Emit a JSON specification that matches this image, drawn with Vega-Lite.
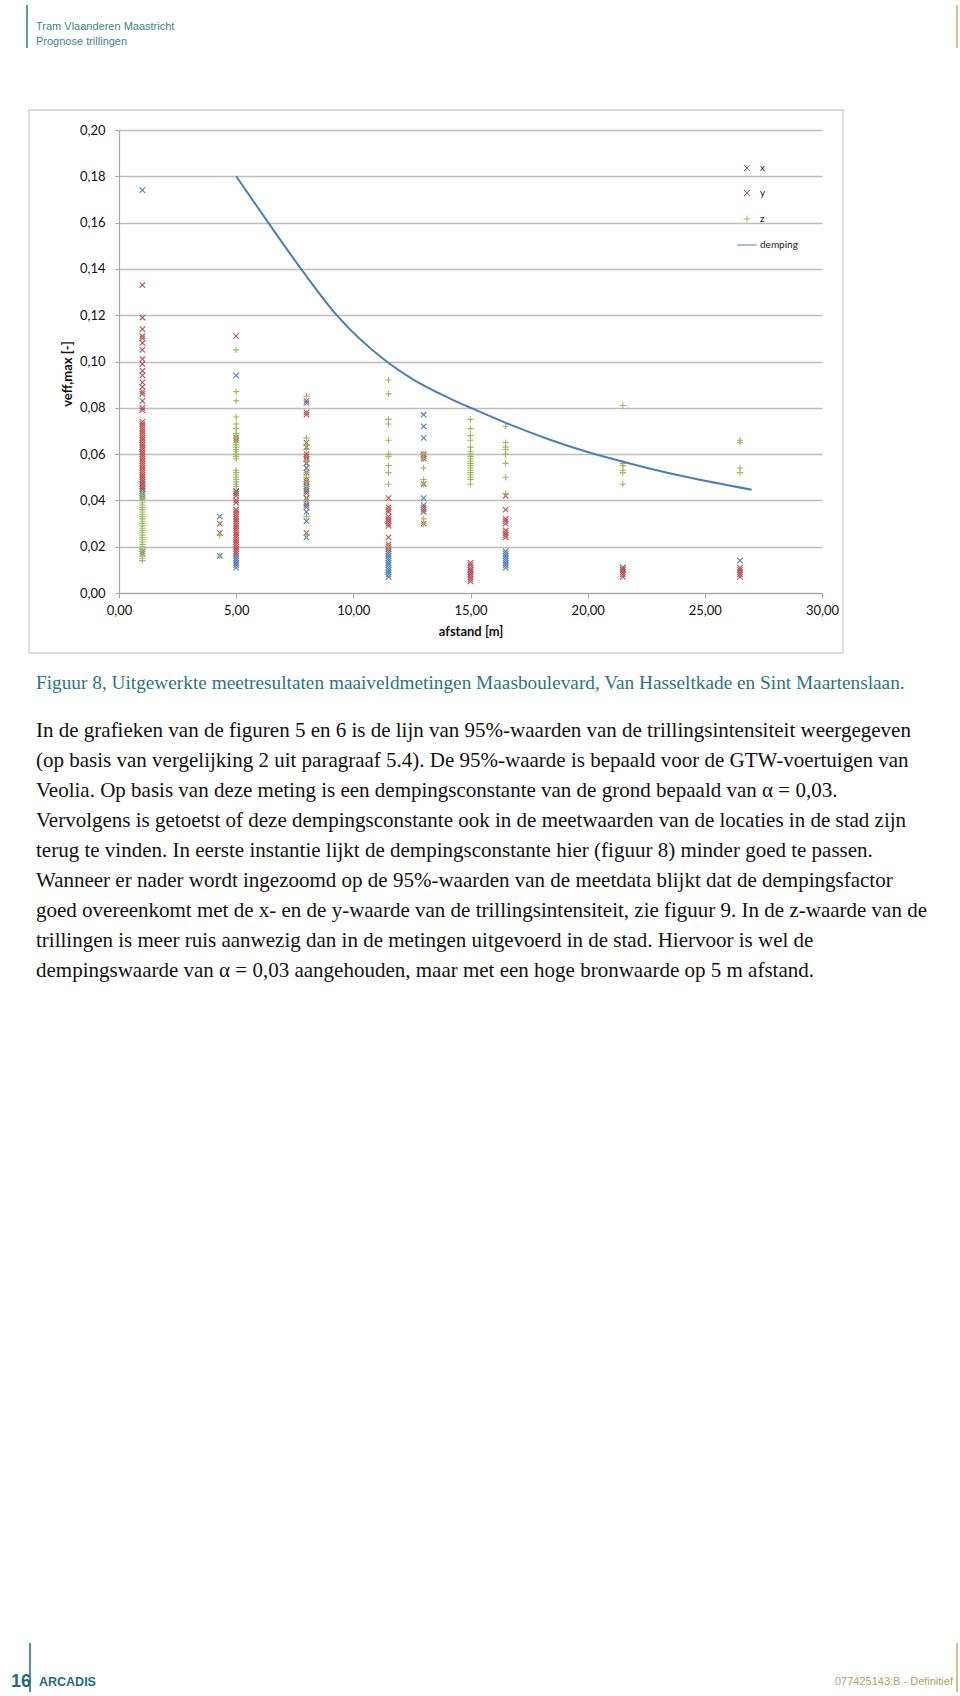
{
  "$schema": "https://vega.github.io/schema/vega-lite/v6.json",
  "width": 703,
  "height": 463,
  "autosize": {"type": "none"},
  "padding": {"left": 119, "top": 130, "right": 138, "bottom": 1103},
  "background": "white",
  "config": {"view": {"stroke": null}, "font": "Lato"},
  "datasets": {
    "metingen": [
      {"afstand": 1, "v": 0.174, "serie": "x"}, {"afstand": 1, "v": 0.049, "serie": "x"}, {"afstand": 1, "v": 0.047, "serie": "x"}, {"afstand": 1, "v": 0.046, "serie": "x"}, {"afstand": 1, "v": 0.045, "serie": "x"}, {"afstand": 1, "v": 0.044, "serie": "x"}, {"afstand": 1, "v": 0.043, "serie": "x"}, {"afstand": 1, "v": 0.042, "serie": "x"}, {"afstand": 1, "v": 0.041, "serie": "x"}, {"afstand": 1, "v": 0.018, "serie": "x"}, {"afstand": 1, "v": 0.017, "serie": "x"},
      {"afstand": 4.3, "v": 0.033, "serie": "x"}, {"afstand": 4.3, "v": 0.016, "serie": "x"},
      {"afstand": 5, "v": 0.094, "serie": "x"}, {"afstand": 5, "v": 0.044, "serie": "x"}, {"afstand": 5, "v": 0.043, "serie": "x"}, {"afstand": 5, "v": 0.016, "serie": "x"}, {"afstand": 5, "v": 0.015, "serie": "x"}, {"afstand": 5, "v": 0.014, "serie": "x"}, {"afstand": 5, "v": 0.013, "serie": "x"}, {"afstand": 5, "v": 0.012, "serie": "x"}, {"afstand": 5, "v": 0.011, "serie": "x"},
      {"afstand": 8, "v": 0.082, "serie": "x"}, {"afstand": 8, "v": 0.058, "serie": "x"}, {"afstand": 8, "v": 0.056, "serie": "x"}, {"afstand": 8, "v": 0.054, "serie": "x"}, {"afstand": 8, "v": 0.047, "serie": "x"}, {"afstand": 8, "v": 0.046, "serie": "x"}, {"afstand": 8, "v": 0.045, "serie": "x"}, {"afstand": 8, "v": 0.043, "serie": "x"}, {"afstand": 8, "v": 0.041, "serie": "x"}, {"afstand": 8, "v": 0.039, "serie": "x"}, {"afstand": 8, "v": 0.037, "serie": "x"}, {"afstand": 8, "v": 0.035, "serie": "x"}, {"afstand": 8, "v": 0.031, "serie": "x"}, {"afstand": 8, "v": 0.024, "serie": "x"},
      {"afstand": 11.5, "v": 0.018, "serie": "x"}, {"afstand": 11.5, "v": 0.017, "serie": "x"}, {"afstand": 11.5, "v": 0.016, "serie": "x"}, {"afstand": 11.5, "v": 0.015, "serie": "x"}, {"afstand": 11.5, "v": 0.014, "serie": "x"}, {"afstand": 11.5, "v": 0.013, "serie": "x"}, {"afstand": 11.5, "v": 0.012, "serie": "x"}, {"afstand": 11.5, "v": 0.011, "serie": "x"}, {"afstand": 11.5, "v": 0.01, "serie": "x"}, {"afstand": 11.5, "v": 0.009, "serie": "x"}, {"afstand": 11.5, "v": 0.008, "serie": "x"}, {"afstand": 11.5, "v": 0.007, "serie": "x"},
      {"afstand": 13, "v": 0.077, "serie": "x"}, {"afstand": 13, "v": 0.072, "serie": "x"}, {"afstand": 13, "v": 0.067, "serie": "x"}, {"afstand": 13, "v": 0.041, "serie": "x"}, {"afstand": 13, "v": 0.038, "serie": "x"}, {"afstand": 13, "v": 0.036, "serie": "x"},
      {"afstand": 15, "v": 0.01, "serie": "x"}, {"afstand": 15, "v": 0.008, "serie": "x"},
      {"afstand": 16.5, "v": 0.018, "serie": "x"}, {"afstand": 16.5, "v": 0.017, "serie": "x"}, {"afstand": 16.5, "v": 0.016, "serie": "x"}, {"afstand": 16.5, "v": 0.015, "serie": "x"}, {"afstand": 16.5, "v": 0.014, "serie": "x"}, {"afstand": 16.5, "v": 0.013, "serie": "x"}, {"afstand": 16.5, "v": 0.012, "serie": "x"}, {"afstand": 16.5, "v": 0.011, "serie": "x"},
      {"afstand": 21.5, "v": 0.011, "serie": "x"}, {"afstand": 21.5, "v": 0.01, "serie": "x"},
      {"afstand": 26.5, "v": 0.014, "serie": "x"}, {"afstand": 26.5, "v": 0.009, "serie": "x"},

      {"afstand": 1, "v": 0.133, "serie": "y"}, {"afstand": 1, "v": 0.119, "serie": "y"}, {"afstand": 1, "v": 0.114, "serie": "y"}, {"afstand": 1, "v": 0.111, "serie": "y"}, {"afstand": 1, "v": 0.11, "serie": "y"}, {"afstand": 1, "v": 0.108, "serie": "y"}, {"afstand": 1, "v": 0.105, "serie": "y"}, {"afstand": 1, "v": 0.101, "serie": "y"}, {"afstand": 1, "v": 0.099, "serie": "y"}, {"afstand": 1, "v": 0.096, "serie": "y"}, {"afstand": 1, "v": 0.094, "serie": "y"}, {"afstand": 1, "v": 0.091, "serie": "y"}, {"afstand": 1, "v": 0.089, "serie": "y"}, {"afstand": 1, "v": 0.087, "serie": "y"}, {"afstand": 1, "v": 0.086, "serie": "y"}, {"afstand": 1, "v": 0.083, "serie": "y"}, {"afstand": 1, "v": 0.08, "serie": "y"}, {"afstand": 1, "v": 0.079, "serie": "y"}, {"afstand": 1, "v": 0.074, "serie": "y"}, {"afstand": 1, "v": 0.073, "serie": "y"}, {"afstand": 1, "v": 0.072, "serie": "y"}, {"afstand": 1, "v": 0.071, "serie": "y"}, {"afstand": 1, "v": 0.07, "serie": "y"}, {"afstand": 1, "v": 0.069, "serie": "y"}, {"afstand": 1, "v": 0.068, "serie": "y"}, {"afstand": 1, "v": 0.067, "serie": "y"}, {"afstand": 1, "v": 0.066, "serie": "y"}, {"afstand": 1, "v": 0.065, "serie": "y"}, {"afstand": 1, "v": 0.064, "serie": "y"}, {"afstand": 1, "v": 0.063, "serie": "y"}, {"afstand": 1, "v": 0.062, "serie": "y"}, {"afstand": 1, "v": 0.061, "serie": "y"}, {"afstand": 1, "v": 0.06, "serie": "y"}, {"afstand": 1, "v": 0.059, "serie": "y"}, {"afstand": 1, "v": 0.058, "serie": "y"}, {"afstand": 1, "v": 0.057, "serie": "y"}, {"afstand": 1, "v": 0.056, "serie": "y"}, {"afstand": 1, "v": 0.055, "serie": "y"}, {"afstand": 1, "v": 0.054, "serie": "y"}, {"afstand": 1, "v": 0.053, "serie": "y"}, {"afstand": 1, "v": 0.052, "serie": "y"}, {"afstand": 1, "v": 0.051, "serie": "y"}, {"afstand": 1, "v": 0.05, "serie": "y"}, {"afstand": 1, "v": 0.049, "serie": "y"}, {"afstand": 1, "v": 0.048, "serie": "y"}, {"afstand": 1, "v": 0.047, "serie": "y"}, {"afstand": 1, "v": 0.046, "serie": "y"}, {"afstand": 1, "v": 0.045, "serie": "y"},
      {"afstand": 4.3, "v": 0.03, "serie": "y"}, {"afstand": 4.3, "v": 0.026, "serie": "y"},
      {"afstand": 5, "v": 0.111, "serie": "y"}, {"afstand": 5, "v": 0.067, "serie": "y"}, {"afstand": 5, "v": 0.066, "serie": "y"}, {"afstand": 5, "v": 0.044, "serie": "y"}, {"afstand": 5, "v": 0.042, "serie": "y"}, {"afstand": 5, "v": 0.04, "serie": "y"}, {"afstand": 5, "v": 0.039, "serie": "y"}, {"afstand": 5, "v": 0.036, "serie": "y"}, {"afstand": 5, "v": 0.035, "serie": "y"}, {"afstand": 5, "v": 0.034, "serie": "y"}, {"afstand": 5, "v": 0.033, "serie": "y"}, {"afstand": 5, "v": 0.032, "serie": "y"}, {"afstand": 5, "v": 0.031, "serie": "y"}, {"afstand": 5, "v": 0.03, "serie": "y"}, {"afstand": 5, "v": 0.029, "serie": "y"}, {"afstand": 5, "v": 0.028, "serie": "y"}, {"afstand": 5, "v": 0.027, "serie": "y"}, {"afstand": 5, "v": 0.026, "serie": "y"}, {"afstand": 5, "v": 0.025, "serie": "y"}, {"afstand": 5, "v": 0.024, "serie": "y"}, {"afstand": 5, "v": 0.023, "serie": "y"}, {"afstand": 5, "v": 0.022, "serie": "y"}, {"afstand": 5, "v": 0.021, "serie": "y"}, {"afstand": 5, "v": 0.02, "serie": "y"}, {"afstand": 5, "v": 0.019, "serie": "y"}, {"afstand": 5, "v": 0.018, "serie": "y"}, {"afstand": 5, "v": 0.017, "serie": "y"},
      {"afstand": 8, "v": 0.083, "serie": "y"}, {"afstand": 8, "v": 0.078, "serie": "y"}, {"afstand": 8, "v": 0.077, "serie": "y"}, {"afstand": 8, "v": 0.065, "serie": "y"}, {"afstand": 8, "v": 0.063, "serie": "y"}, {"afstand": 8, "v": 0.06, "serie": "y"}, {"afstand": 8, "v": 0.059, "serie": "y"}, {"afstand": 8, "v": 0.058, "serie": "y"}, {"afstand": 8, "v": 0.056, "serie": "y"}, {"afstand": 8, "v": 0.052, "serie": "y"}, {"afstand": 8, "v": 0.049, "serie": "y"}, {"afstand": 8, "v": 0.048, "serie": "y"}, {"afstand": 8, "v": 0.044, "serie": "y"}, {"afstand": 8, "v": 0.041, "serie": "y"}, {"afstand": 8, "v": 0.038, "serie": "y"}, {"afstand": 8, "v": 0.026, "serie": "y"},
      {"afstand": 11.5, "v": 0.041, "serie": "y"}, {"afstand": 11.5, "v": 0.037, "serie": "y"}, {"afstand": 11.5, "v": 0.036, "serie": "y"}, {"afstand": 11.5, "v": 0.035, "serie": "y"}, {"afstand": 11.5, "v": 0.033, "serie": "y"}, {"afstand": 11.5, "v": 0.032, "serie": "y"}, {"afstand": 11.5, "v": 0.031, "serie": "y"}, {"afstand": 11.5, "v": 0.03, "serie": "y"}, {"afstand": 11.5, "v": 0.029, "serie": "y"}, {"afstand": 11.5, "v": 0.024, "serie": "y"}, {"afstand": 11.5, "v": 0.021, "serie": "y"}, {"afstand": 11.5, "v": 0.02, "serie": "y"}, {"afstand": 11.5, "v": 0.019, "serie": "y"},
      {"afstand": 13, "v": 0.06, "serie": "y"}, {"afstand": 13, "v": 0.059, "serie": "y"}, {"afstand": 13, "v": 0.058, "serie": "y"}, {"afstand": 13, "v": 0.047, "serie": "y"}, {"afstand": 13, "v": 0.037, "serie": "y"}, {"afstand": 13, "v": 0.035, "serie": "y"}, {"afstand": 13, "v": 0.03, "serie": "y"},
      {"afstand": 15, "v": 0.013, "serie": "y"}, {"afstand": 15, "v": 0.012, "serie": "y"}, {"afstand": 15, "v": 0.011, "serie": "y"}, {"afstand": 15, "v": 0.01, "serie": "y"}, {"afstand": 15, "v": 0.009, "serie": "y"}, {"afstand": 15, "v": 0.008, "serie": "y"}, {"afstand": 15, "v": 0.007, "serie": "y"}, {"afstand": 15, "v": 0.006, "serie": "y"}, {"afstand": 15, "v": 0.005, "serie": "y"},
      {"afstand": 16.5, "v": 0.042, "serie": "y"}, {"afstand": 16.5, "v": 0.036, "serie": "y"}, {"afstand": 16.5, "v": 0.032, "serie": "y"}, {"afstand": 16.5, "v": 0.031, "serie": "y"}, {"afstand": 16.5, "v": 0.03, "serie": "y"}, {"afstand": 16.5, "v": 0.027, "serie": "y"}, {"afstand": 16.5, "v": 0.026, "serie": "y"}, {"afstand": 16.5, "v": 0.025, "serie": "y"}, {"afstand": 16.5, "v": 0.024, "serie": "y"},
      {"afstand": 21.5, "v": 0.011, "serie": "y"}, {"afstand": 21.5, "v": 0.01, "serie": "y"}, {"afstand": 21.5, "v": 0.009, "serie": "y"}, {"afstand": 21.5, "v": 0.008, "serie": "y"}, {"afstand": 21.5, "v": 0.007, "serie": "y"},
      {"afstand": 26.5, "v": 0.011, "serie": "y"}, {"afstand": 26.5, "v": 0.01, "serie": "y"}, {"afstand": 26.5, "v": 0.008, "serie": "y"}, {"afstand": 26.5, "v": 0.007, "serie": "y"},

      {"afstand": 1, "v": 0.043, "serie": "z"}, {"afstand": 1, "v": 0.042, "serie": "z"}, {"afstand": 1, "v": 0.041, "serie": "z"}, {"afstand": 1, "v": 0.04, "serie": "z"}, {"afstand": 1, "v": 0.039, "serie": "z"}, {"afstand": 1, "v": 0.038, "serie": "z"}, {"afstand": 1, "v": 0.037, "serie": "z"}, {"afstand": 1, "v": 0.036, "serie": "z"}, {"afstand": 1, "v": 0.035, "serie": "z"}, {"afstand": 1, "v": 0.034, "serie": "z"}, {"afstand": 1, "v": 0.033, "serie": "z"}, {"afstand": 1, "v": 0.032, "serie": "z"}, {"afstand": 1, "v": 0.031, "serie": "z"}, {"afstand": 1, "v": 0.03, "serie": "z"}, {"afstand": 1, "v": 0.029, "serie": "z"}, {"afstand": 1, "v": 0.028, "serie": "z"}, {"afstand": 1, "v": 0.027, "serie": "z"}, {"afstand": 1, "v": 0.026, "serie": "z"}, {"afstand": 1, "v": 0.025, "serie": "z"}, {"afstand": 1, "v": 0.024, "serie": "z"}, {"afstand": 1, "v": 0.023, "serie": "z"}, {"afstand": 1, "v": 0.022, "serie": "z"}, {"afstand": 1, "v": 0.021, "serie": "z"}, {"afstand": 1, "v": 0.02, "serie": "z"}, {"afstand": 1, "v": 0.019, "serie": "z"}, {"afstand": 1, "v": 0.018, "serie": "z"}, {"afstand": 1, "v": 0.017, "serie": "z"}, {"afstand": 1, "v": 0.016, "serie": "z"}, {"afstand": 1, "v": 0.015, "serie": "z"}, {"afstand": 1, "v": 0.014, "serie": "z"},
      {"afstand": 4.3, "v": 0.025, "serie": "z"}, {"afstand": 4.3, "v": 0.016, "serie": "z"},
      {"afstand": 5, "v": 0.105, "serie": "z"}, {"afstand": 5, "v": 0.087, "serie": "z"}, {"afstand": 5, "v": 0.083, "serie": "z"}, {"afstand": 5, "v": 0.076, "serie": "z"}, {"afstand": 5, "v": 0.073, "serie": "z"}, {"afstand": 5, "v": 0.071, "serie": "z"}, {"afstand": 5, "v": 0.069, "serie": "z"}, {"afstand": 5, "v": 0.068, "serie": "z"}, {"afstand": 5, "v": 0.067, "serie": "z"}, {"afstand": 5, "v": 0.066, "serie": "z"}, {"afstand": 5, "v": 0.065, "serie": "z"}, {"afstand": 5, "v": 0.064, "serie": "z"}, {"afstand": 5, "v": 0.063, "serie": "z"}, {"afstand": 5, "v": 0.062, "serie": "z"}, {"afstand": 5, "v": 0.061, "serie": "z"}, {"afstand": 5, "v": 0.06, "serie": "z"}, {"afstand": 5, "v": 0.059, "serie": "z"}, {"afstand": 5, "v": 0.058, "serie": "z"}, {"afstand": 5, "v": 0.053, "serie": "z"}, {"afstand": 5, "v": 0.052, "serie": "z"}, {"afstand": 5, "v": 0.051, "serie": "z"}, {"afstand": 5, "v": 0.05, "serie": "z"}, {"afstand": 5, "v": 0.049, "serie": "z"}, {"afstand": 5, "v": 0.048, "serie": "z"}, {"afstand": 5, "v": 0.047, "serie": "z"}, {"afstand": 5, "v": 0.046, "serie": "z"},
      {"afstand": 8, "v": 0.085, "serie": "z"}, {"afstand": 8, "v": 0.067, "serie": "z"}, {"afstand": 8, "v": 0.064, "serie": "z"}, {"afstand": 8, "v": 0.062, "serie": "z"}, {"afstand": 8, "v": 0.057, "serie": "z"}, {"afstand": 8, "v": 0.052, "serie": "z"}, {"afstand": 8, "v": 0.051, "serie": "z"}, {"afstand": 8, "v": 0.05, "serie": "z"}, {"afstand": 8, "v": 0.048, "serie": "z"}, {"afstand": 8, "v": 0.046, "serie": "z"}, {"afstand": 8, "v": 0.04, "serie": "z"}, {"afstand": 8, "v": 0.033, "serie": "z"}, {"afstand": 8, "v": 0.025, "serie": "z"},
      {"afstand": 11.5, "v": 0.092, "serie": "z"}, {"afstand": 11.5, "v": 0.086, "serie": "z"}, {"afstand": 11.5, "v": 0.075, "serie": "z"}, {"afstand": 11.5, "v": 0.073, "serie": "z"}, {"afstand": 11.5, "v": 0.066, "serie": "z"}, {"afstand": 11.5, "v": 0.06, "serie": "z"}, {"afstand": 11.5, "v": 0.059, "serie": "z"}, {"afstand": 11.5, "v": 0.055, "serie": "z"}, {"afstand": 11.5, "v": 0.052, "serie": "z"}, {"afstand": 11.5, "v": 0.047, "serie": "z"}, {"afstand": 11.5, "v": 0.02, "serie": "z"},
      {"afstand": 13, "v": 0.06, "serie": "z"}, {"afstand": 13, "v": 0.058, "serie": "z"}, {"afstand": 13, "v": 0.054, "serie": "z"}, {"afstand": 13, "v": 0.049, "serie": "z"}, {"afstand": 13, "v": 0.047, "serie": "z"}, {"afstand": 13, "v": 0.032, "serie": "z"}, {"afstand": 13, "v": 0.03, "serie": "z"},
      {"afstand": 15, "v": 0.075, "serie": "z"}, {"afstand": 15, "v": 0.071, "serie": "z"}, {"afstand": 15, "v": 0.068, "serie": "z"}, {"afstand": 15, "v": 0.066, "serie": "z"}, {"afstand": 15, "v": 0.063, "serie": "z"}, {"afstand": 15, "v": 0.061, "serie": "z"}, {"afstand": 15, "v": 0.06, "serie": "z"}, {"afstand": 15, "v": 0.059, "serie": "z"}, {"afstand": 15, "v": 0.058, "serie": "z"}, {"afstand": 15, "v": 0.057, "serie": "z"}, {"afstand": 15, "v": 0.056, "serie": "z"}, {"afstand": 15, "v": 0.055, "serie": "z"}, {"afstand": 15, "v": 0.054, "serie": "z"}, {"afstand": 15, "v": 0.053, "serie": "z"}, {"afstand": 15, "v": 0.052, "serie": "z"}, {"afstand": 15, "v": 0.051, "serie": "z"}, {"afstand": 15, "v": 0.05, "serie": "z"}, {"afstand": 15, "v": 0.049, "serie": "z"}, {"afstand": 15, "v": 0.047, "serie": "z"},
      {"afstand": 16.5, "v": 0.072, "serie": "z"}, {"afstand": 16.5, "v": 0.065, "serie": "z"}, {"afstand": 16.5, "v": 0.063, "serie": "z"}, {"afstand": 16.5, "v": 0.062, "serie": "z"}, {"afstand": 16.5, "v": 0.06, "serie": "z"}, {"afstand": 16.5, "v": 0.056, "serie": "z"}, {"afstand": 16.5, "v": 0.05, "serie": "z"}, {"afstand": 16.5, "v": 0.043, "serie": "z"},
      {"afstand": 21.5, "v": 0.081, "serie": "z"}, {"afstand": 21.5, "v": 0.056, "serie": "z"}, {"afstand": 21.5, "v": 0.055, "serie": "z"}, {"afstand": 21.5, "v": 0.053, "serie": "z"}, {"afstand": 21.5, "v": 0.052, "serie": "z"}, {"afstand": 21.5, "v": 0.047, "serie": "z"},
      {"afstand": 26.5, "v": 0.066, "serie": "z"}, {"afstand": 26.5, "v": 0.065, "serie": "z"}, {"afstand": 26.5, "v": 0.054, "serie": "z"}, {"afstand": 26.5, "v": 0.052, "serie": "z"}
    ],
    "demping": [
      {"afstand": 5.0, "v": 0.18, "serie": "demping"},
      {"afstand": 6.37, "v": 0.16, "serie": "demping"},
      {"afstand": 7.87, "v": 0.1386, "serie": "demping"},
      {"afstand": 9.29, "v": 0.12, "serie": "demping"},
      {"afstand": 11.42, "v": 0.1, "serie": "demping"},
      {"afstand": 12.56, "v": 0.0922, "serie": "demping"},
      {"afstand": 14.13, "v": 0.084, "serie": "demping"},
      {"afstand": 15.12, "v": 0.0795, "serie": "demping"},
      {"afstand": 16.55, "v": 0.0733, "serie": "demping"},
      {"afstand": 18.39, "v": 0.0662, "serie": "demping"},
      {"afstand": 19.96, "v": 0.061, "serie": "demping"},
      {"afstand": 21.67, "v": 0.0563, "serie": "demping"},
      {"afstand": 24.08, "v": 0.0504, "serie": "demping"},
      {"afstand": 27.0, "v": 0.0446, "serie": "demping"}
    ]
  },
  "layer": [
    {
      "data": {"name": "metingen"},
      "mark": {"type": "point", "filled": false, "size": 30, "strokeWidth": 1.1, "opacity": 1},
      "encoding": {
        "x": {
          "field": "afstand", "type": "quantitative",
          "scale": {"domain": [0, 30], "nice": false, "zero": false},
          "axis": {
            "title": "afstand [m]", "values": [0, 5, 10, 15, 20, 25, 30], "format": ".2f",
            "labelExpr": "replace(datum.label, '.', ',')", "grid": false, "labelFlush": false,
            "domainColor": "#A6A6A6", "domainWidth": 1.2, "tickColor": "#A6A6A6", "tickSize": 5,
            "labelFont": "Lato", "labelFontSize": 13, "labelColor": "#111111", "labelPadding": 6,
            "titleFont": "Lato", "titleFontSize": 13, "titleFontWeight": "bold", "titleColor": "#111111", "titlePadding": 8
          }
        },
        "y": {
          "field": "v", "type": "quantitative",
          "scale": {"domain": [0, 0.2], "nice": false, "zero": false},
          "axis": {
            "title": "veff,max [-]", "values": [0, 0.02, 0.04, 0.06, 0.08, 0.1, 0.12, 0.14, 0.16, 0.18, 0.2], "format": ".2f",
            "labelExpr": "replace(datum.label, '.', ',')", "grid": true, "gridColor": "#BDBDBD", "gridWidth": 1.3, "labelFlush": false,
            "domainColor": "#A6A6A6", "domainWidth": 1.2, "tickColor": "#A6A6A6", "tickSize": 4,
            "labelFont": "Lato", "labelFontSize": 13, "labelColor": "#111111", "labelPadding": 10,
            "titleFont": "Lato", "titleFontSize": 13, "titleFontWeight": "bold", "titleColor": "#111111", "titlePadding": 5, "titleY": 243.5
          }
        },
        "color": {
          "field": "serie", "type": "nominal",
          "scale": {"domain": ["x", "y", "z", "demping"], "range": ["#4F81BD", "#C0504D", "#9BBB59", "#4A7EBB"]},
          "legend": {"orient": "none", "legendX": 623, "legendY": 33, "title": null, "labelFont": "Lato", "labelFontSize": 10, "labelColor": "#222222", "symbolSize": 36, "rowPadding": 15, "padding": 0, "symbolStrokeWidth": 1, "symbolFillColor": "transparent", "labelOffset": 8}
        },
        "shape": {
          "field": "serie", "type": "nominal",
          "scale": {"domain": ["x", "y", "z", "demping"], "range": ["M-1,-1L1,1M-1,1L1,-1", "M-1,-1L1,1M-1,1L1,-1", "M0,-1.15L0,1.15M-1.15,0L1.15,0", "M-3.2,0L3.2,0"]},
          "legend": {"orient": "none", "legendX": 623, "legendY": 33, "title": null, "labelFont": "Lato", "labelFontSize": 10, "labelColor": "#222222", "symbolSize": 36, "rowPadding": 15, "padding": 0, "symbolStrokeWidth": 1, "symbolFillColor": "transparent", "labelOffset": 8}
        }
      }
    },
    {
      "data": {"name": "demping"},
      "mark": {"type": "line", "strokeWidth": 2, "interpolate": "monotone"},
      "encoding": {
        "x": {"field": "afstand", "type": "quantitative"},
        "y": {"field": "v", "type": "quantitative"},
        "color": {"field": "serie", "type": "nominal"}
      }
    },
    {
      "data": {"values": [{"kader": "grafiek"}]},
      "mark": {"type": "rect", "fill": null, "stroke": "#CFCFCF", "strokeWidth": 1.3, "clip": false},
      "encoding": {"x": {"datum": -3.841}, "x2": {"datum": 30.896}, "y": {"datum": 0.20864}, "y2": {"datum": -0.02592}}
    },
    {
      "data": {"values": [{"balk": "kop links"}]},
      "mark": {"type": "rule", "color": "#2B7A8A", "strokeWidth": 1.5},
      "encoding": {"x": {"datum": -3.926}, "y": {"datum": 0.254}, "y2": {"datum": 0.23542}}
    },
    {
      "data": {"values": [{"balk": "kop rechts"}]},
      "mark": {"type": "rule", "color": "#C9A96A", "strokeWidth": 1.5},
      "encoding": {"x": {"datum": 35.761}, "y": {"datum": 0.254}, "y2": {"datum": 0.23542}}
    },
    {
      "data": {"values": [{"regels": ["Tram Vlaanderen Maastricht", "Prognose trillingen"]}]},
      "mark": {"type": "text", "align": "left", "baseline": "middle", "font": "Liberation Sans Narrow, Liberation Sans", "fontSize": 11, "lineHeight": 15, "color": "#3A8595"},
      "encoding": {"x": {"datum": -3.542}, "y": {"datum": 0.24449}, "text": {"field": "regels"}}
    },
    {
      "data": {"values": [{"bijschrift": "Figuur 8, Uitgewerkte meetresultaten maaiveldmetingen Maasboulevard, Van Hasseltkade en Sint Maartenslaan."}]},
      "mark": {"type": "text", "align": "left", "baseline": "middle", "font": "Liberation Serif", "fontSize": 19.3, "color": "#2A7585"},
      "encoding": {"x": {"datum": -3.542}, "y": {"datum": -0.03888}, "text": {"field": "bijschrift"}}
    },
    {
      "data": {"values": [{"tekst": [
        "In de grafieken van de figuren 5 en 6 is de lijn van 95%-waarden van de trillingsintensiteit weergegeven",
        "(op basis van vergelijking 2 uit paragraaf 5.4). De 95%-waarde is bepaald voor de GTW-voertuigen van",
        "Veolia. Op basis van deze meting is een dempingsconstante van de grond bepaald van α = 0,03.",
        "Vervolgens is getoetst of deze dempingsconstante ook in de meetwaarden van de locaties in de stad zijn",
        "terug te vinden. In eerste instantie lijkt de dempingsconstante hier (figuur 8) minder goed te passen.",
        "Wanneer er nader wordt ingezoomd op de 95%-waarden van de meetdata blijkt dat de dempingsfactor",
        "goed overeenkomt met de x- en de y-waarde van de trillingsintensiteit, zie figuur 9. In de z-waarde van de",
        "trillingen is meer ruis aanwezig dan in de metingen uitgevoerd in de stad. Hiervoor is wel de",
        "dempingswaarde van α = 0,03 aangehouden, maar met een hoge bronwaarde op 5 m afstand."
      ]}]},
      "mark": {"type": "text", "align": "left", "baseline": "middle", "font": "Liberation Serif", "fontSize": 21, "lineHeight": 30, "color": "#111111"},
      "encoding": {"x": {"datum": -3.542}, "y": {"datum": -0.05961}, "text": {"field": "tekst"}}
    },
    {
      "data": {"values": [{"balk": "voet links"}]},
      "mark": {"type": "rule", "color": "#1F6B7C", "strokeWidth": 1.5},
      "encoding": {"x": {"datum": -3.798}, "y": {"datum": -0.45356}, "y2": {"datum": -0.47473}}
    },
    {
      "data": {"values": [{"balk": "voet rechts"}]},
      "mark": {"type": "rule", "color": "#C9A96A", "strokeWidth": 1.5},
      "encoding": {"x": {"datum": 35.761}, "y": {"datum": -0.45356}, "y2": {"datum": -0.47473}}
    },
    {
      "data": {"values": [{"pagina": "16"}]},
      "mark": {"type": "text", "align": "left", "baseline": "middle", "font": "Liberation Sans Narrow, Liberation Sans", "fontWeight": "bold", "fontSize": 18, "color": "#1F6B7C"},
      "encoding": {"x": {"datum": -4.609}, "y": {"datum": -0.47041}, "text": {"field": "pagina"}}
    },
    {
      "data": {"values": [{"merk": "ARCADIS"}]},
      "mark": {"type": "text", "align": "left", "baseline": "middle", "font": "Liberation Sans Narrow, Liberation Sans", "fontWeight": "bold", "fontSize": 12.5, "color": "#1F6B7C"},
      "encoding": {"x": {"datum": -3.414}, "y": {"datum": -0.47041}, "text": {"field": "merk"}}
    },
    {
      "data": {"values": [{"kenmerk": "077425143:B - Definitief"}]},
      "mark": {"type": "text", "align": "right", "baseline": "middle", "font": "Liberation Sans Narrow, Liberation Sans", "fontSize": 11, "color": "#B59F62"},
      "encoding": {"x": {"datum": 35.59}, "y": {"datum": -0.47041}, "text": {"field": "kenmerk"}}
    }
  ]
}
